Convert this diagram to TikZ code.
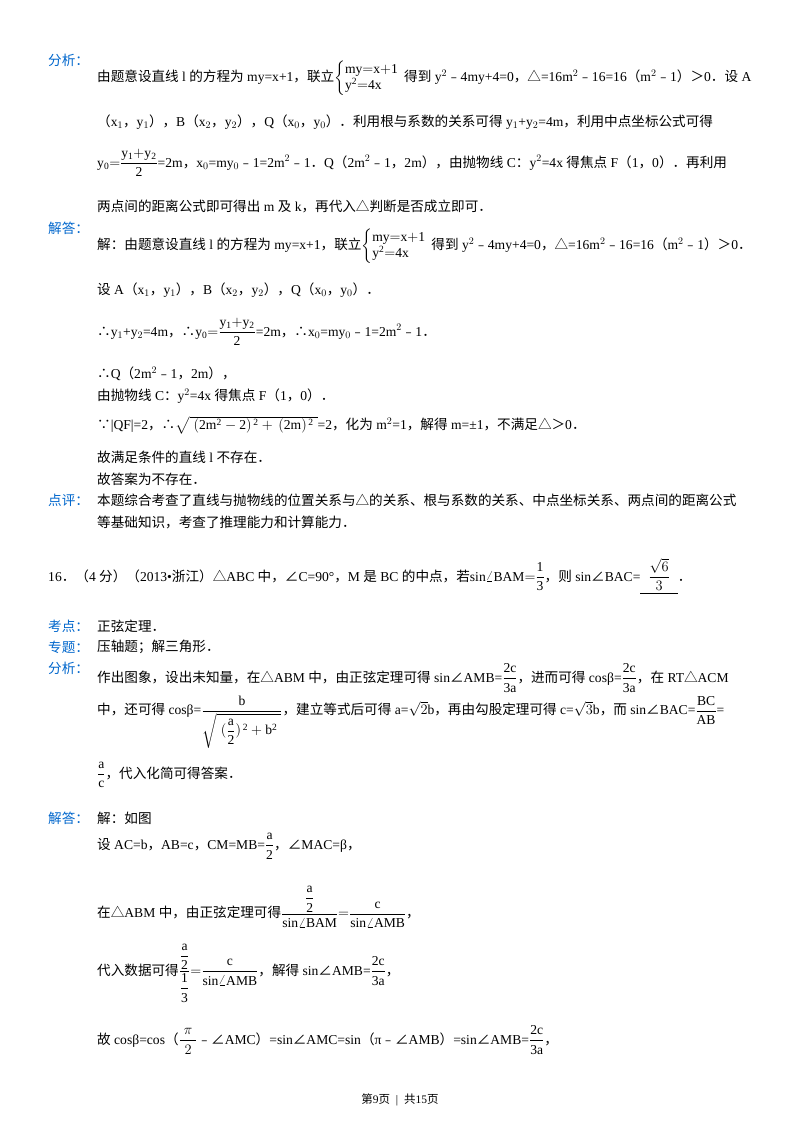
\documentclass[tikz,border=0pt]{standalone}
\usepackage{amsmath}
\usepackage{fontspec}
\setmainfont{Liberation Serif}
\newfontfamily\cjk{Noto Sans CJK SC}
\XeTeXinterchartokenstate=1
\newXeTeXintercharclass\cjkcls
\makeatletter
\newcount\zzc
\def\zzrange#1#2{\zzc=#1\relax\loop\XeTeXcharclass\zzc=\cjkcls\advance\zzc by 1\relax\ifnum\zzc<#2\repeat}
\zzrange{"4E00}{"A000}
\zzrange{"3000}{"3040}
\zzrange{"FF00}{"FFF0}
\zzrange{"FE30}{"FE70}
\XeTeXcharclass"25B3=\cjkcls
\XeTeXcharclass"2220=\cjkcls
\XeTeXcharclass"2234=\cjkcls
\XeTeXcharclass"2235=\cjkcls
\makeatother
\XeTeXinterchartoks 0 \cjkcls = {\cjk}
\XeTeXinterchartoks 4095 \cjkcls = {\cjk}
\XeTeXinterchartoks \cjkcls 0 = {\rmfamily}
\XeTeXinterchartoks \cjkcls 4095 = {\rmfamily}
\definecolor{lab}{RGB}{0,102,204}
\begin{document}
\begin{tikzpicture}[x=1pt,y=1pt,
  t/.style={anchor=west,inner sep=0pt,font=\fontsize{13.6}{16}\selectfont},
  lb/.style={t,text=lab}]
\useasboundingbox (0,0) rectangle (800,-1132);
\node[lb] (a1) at (48,-60) {分析：};
\node[t] (l1) at (97,-78) {由题意设直线 l 的方程为 my=x+1，联立$\left\{\begin{array}{@{}l}\mathrm{my{=}x{+}1}\\ \mathrm{y^2{=}4x}\end{array}\right.$得到 y$^2$﹣4my+4=0，△=16m$^2$﹣16=16（m$^2$﹣1）＞0．设 A};
\node[t] (l2) at (97,-122) {（x$_1$，y$_1$），B（x$_2$，y$_2$），Q（x$_0$，y$_0$）．利用根与系数的关系可得 y$_1$+y$_2$=4m，利用中点坐标公式可得};
\node[t] (l3) at (97,-163) {$\mathrm{y_0{=}\dfrac{y_1{+}y_2}{2}}$=2m，x$_0$=my$_0$﹣1=2m$^2$﹣1．Q（2m$^2$﹣1，2m），由抛物线 C：y$^2$=4x 得焦点 F（1，0）．再利用};
\node[t] (l4) at (97,-206) {两点间的距离公式即可得出 m 及 k，再代入△判断是否成立即可．};
\node[lb] (a2) at (48,-228) {解答：};
\node[t] (l5) at (97,-246) {解：由题意设直线 l 的方程为 my=x+1，联立$\left\{\begin{array}{@{}l}\mathrm{my{=}x{+}1}\\ \mathrm{y^2{=}4x}\end{array}\right.$得到 y$^2$﹣4my+4=0，△=16m$^2$﹣16=16（m$^2$﹣1）＞0．};
\node[t] (l6) at (97,-290) {设 A（x$_1$，y$_1$），B（x$_2$，y$_2$），Q（x$_0$，y$_0$）．};
\node[t] (l7) at (97,-332) {∴y$_1$+y$_2$=4m，∴$\mathrm{y_0{=}\dfrac{y_1{+}y_2}{2}}$=2m，∴x$_0$=my$_0$﹣1=2m$^2$﹣1．};
\node[t] (l8) at (97,-374) {∴Q（2m$^2$﹣1，2m），};
\node[t] (l9) at (97,-396) {由抛物线 C：y$^2$=4x 得焦点 F（1，0）．};
\node[t] (l10) at (97,-425) {∵|QF|=2，∴$\sqrt{\mathrm{\;(2m^2-2)^{\,2}+\,(2m)^{\,2}\;}}$=2，化为 m$^2$=1，解得 m=±1，不满足△＞0．};
\node[t] (l11) at (97,-457) {故满足条件的直线 l 不存在．};
\node[t] (l12) at (97,-479) {故答案为不存在．};
\node[lb] (a3) at (48,-500) {点评：};
\node[t] (l13) at (97,-500) {本题综合考查了直线与抛物线的位置关系与△的关系、根与系数的关系、中点坐标关系、两点间的距离公式};
\node[t] (l14) at (97,-522) {等基础知识，考查了推理能力和计算能力．};
\node[t] (q16) at (48,-576) {16．（4 分）（2013•浙江）△ABC 中，∠C=90°，M 是 BC 的中点，若$\mathrm{sin\angle BAM{=}\dfrac13}$，则 sin∠BAC=\underline{\hspace{8pt}$\dfrac{\sqrt6}{3}$\hspace{8pt}}．};
\node[lb] (k1) at (48,-626) {考点：};
\node[t] (m1) at (97,-626) {正弦定理．};
\node[lb] (k2) at (48,-647) {专题：};
\node[t] (m2) at (97,-647) {压轴题；解三角形．};
\node[lb] (k3) at (48,-668) {分析：};
\node[t] (m3) at (97,-678) {作出图象，设出未知量，在△ABM 中，由正弦定理可得 sin∠AMB=$\mathrm{\dfrac{2c}{3a}}$，进而可得 cosβ=$\mathrm{\dfrac{2c}{3a}}$，在 RT△ACM};
\node[t] (m4) at (97,-722) {中，还可得 cosβ=$\mathrm{\dfrac{b}{\sqrt{\;(\dfrac a2)^{\,2}+b^2\;}}}$，建立等式后可得 a=$\sqrt2$b，再由勾股定理可得 c=$\sqrt3$b，而 sin∠BAC=$\mathrm{\dfrac{BC}{AB}}$=};
\node[t] (m5) at (97,-775) {$\mathrm{\dfrac ac}$，代入化简可得答案．};
\node[lb] (k4) at (48,-818) {解答：};
\node[t] (n1) at (97,-818) {解：如图};
\node[t] (n2) at (97,-846) {设 AC=b，AB=c，CM=MB=$\mathrm{\dfrac a2}$，∠MAC=β，};
\node[t] (n3) at (97,-907) {在△ABM 中，由正弦定理可得$\mathrm{\dfrac{\dfrac a2}{sin\angle BAM}{=}\dfrac{c}{sin\angle AMB}}$，};
\node[t] (n4) at (97,-973) {代入数据可得$\mathrm{\dfrac{\dfrac a2}{\dfrac13}{=}\dfrac{c}{sin\angle AMB}}$，解得 sin∠AMB=$\mathrm{\dfrac{2c}{3a}}$，};
\node[t] (n5) at (97,-1040) {故 cosβ=cos（$\dfrac{\;\pi\;}{2}$﹣∠AMC）=sin∠AMC=sin（π﹣∠AMB）=sin∠AMB=$\mathrm{\dfrac{2c}{3a}}$，};
\node[anchor=center,inner sep=0pt,font=\fontsize{11.5}{13}\selectfont] (ft) at (400,-1100) {第9页 \ | \ 共15页};
\end{tikzpicture}
\end{document}
